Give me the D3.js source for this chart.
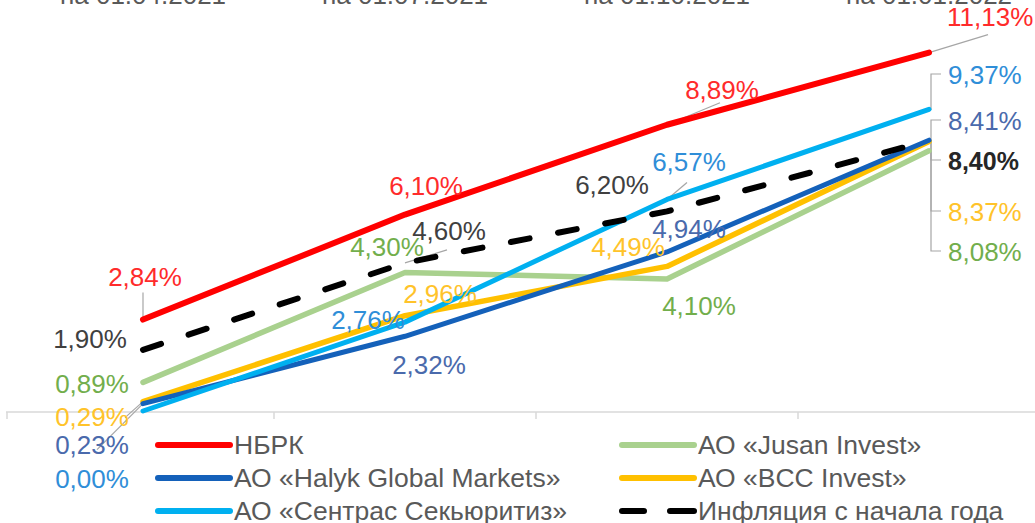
<!DOCTYPE html>
<html><head><meta charset="utf-8">
<script src="https://cdn.jsdelivr.net/npm/d3@7/dist/d3.min.js"></script>
<style>
html,body{margin:0;padding:0;background:#fff;}
svg{display:block;font-family:"Liberation Sans",Arial,sans-serif;}
</style></head>
<body><svg id="c" width="1035" height="523"></svg>
<script>
// ---- data ----
const categories = ["на 01.04.2021", "на 01.07.2021", "на 01.10.2021", "на 01.01.2022"];
const nbrk      = [2.84, 6.10, 8.89, 11.13];
const halyk     = [0.23, 2.32, 4.94, 8.41];
const sentras   = [0.00, 2.76, 6.57, 9.37];
const jusan     = [0.89, 4.30, 4.10, 8.08];
const bcc       = [0.29, 2.96, 4.49, 8.37];
const inflation = [1.90, 4.60, 6.20, 8.40];
const seriesNames = ["НБРК", "АО «Halyk Global Markets»", "АО «Сентрас Секьюритиз»",
                     "АО «Jusan Invest»", "АО «BCC Invest»", "Инфляция с начала года"];

// ---- styling / layout ----
const series = [
  {name: seriesNames[3], values: jusan,     color: "#A9D18E", label: "#72AE4C", w: 5.5},
  {name: seriesNames[4], values: bcc,       color: "#FFC000", label: "#FFC32A", w: 5.5},
  {name: seriesNames[1], values: halyk,     color: "#1461BA", label: "#4A6AAC", w: 5},
  {name: seriesNames[2], values: sentras,   color: "#00B0F0", label: "#2F8ED8", w: 5},
  {name: seriesNames[5], values: inflation, color: "#000000", label: "#404040", w: 6, dash: "19,29"},
  {name: seriesNames[0], values: nbrk,      color: "#FF0000", label: "#FF2B2B", w: 6}
];
// label offsets relative to the data point: [dx, dy, anchor]
const labelOffsets = {
  "НБРК": [[2,-34,"middle"],[21,-20,"middle"],[55,-26,"middle"],[null,-27,"start"]],
  "АО «Halyk Global Markets»": [[-51,50,"middle"],[24,38,"middle"],[22,-14,"middle"],[null,0,"start"]],
  "АО «Сентрас Секьюритиз»": [[-51,77,"middle"],[-37,7,"middle"],[22,-28,"middle"],[null,0,"start"]],
  "АО «Jusan Invest»": [[-51,11,"middle"],[-18,-17,"middle"],[32,36,"middle"],[null,0,"start"]],
  "АО «BCC Invest»": [[-51,24,"middle"],[35,-13,"middle"],[-39,-10,"middle"],[null,0,"start"]],
  "Инфляция с начала года": [[-53,-2,"middle"],[44,-23,"middle"],[-55,-17,"middle"],[null,0,"start"]]
};
// right-hand label baselines (bracketed labels)
const rightBaselines = {"АО «Сентрас Секьюритиз»":84, "АО «Halyk Global Markets»":130,
  "Инфляция с начала года":170, "АО «BCC Invest»":221, "АО «Jusan Invest»":261, "НБРК":null};
// short leader lines: [series, pointIndex, dx, dy]
const leaders = [
  ["НБРК",0,0,-27],["НБРК",1,18,-8],["НБРК",2,53,-22],["НБРК",3,59,-18],
  ["АО «Сентрас Секьюритиз»",2,20,-17],["Инфляция с начала года",1,42,-13],
  ["АО «BCC Invest»",0,-18,16],["АО «Halyk Global Markets»",0,-46,46]
];

const svg = d3.select("#c");
const x = d3.scaleBand().domain(categories).range([12, 1060]).paddingInner(0).paddingOuter(0);
const cx = c => x(c) + x.bandwidth()/2;
const y = d3.scaleLinear().domain([0, 12]).range([411, 411 - 12*32.2]);
const fmt = v => d3.format(".2f")(v).replace(".", ",") + "%";

// baseline axis
const axisG = svg.append("g").attr("transform", `translate(0,${y(0)+1})`)
  .call(d3.axisBottom(x).tickSize(0).tickFormat(""));
axisG.select(".domain").attr("stroke", "#D9D9D9").attr("stroke-width", 1.5).attr("d", "M6,0H1035");
axisG.selectAll(".tick").remove();
const bounds = categories.map(c => x(c));
axisG.selectAll("line.tk").data(bounds).join("line").attr("class","tk")
  .attr("x1", (d,i)=> i===0 ? 7 : d).attr("x2",(d,i)=> i===0 ? 7 : d)
  .attr("y1",0).attr("y2",7).attr("stroke","#D9D9D9").attr("stroke-width",1.5);

// top category labels
svg.append("g").selectAll("text").data(categories).join("text")
  .attr("x", d => cx(d)).attr("y", 4).attr("text-anchor","middle")
  .attr("font-size", 26).attr("fill","#595959").text(d => d);

// leaders
const lg = svg.append("g").attr("stroke","#A6A6A6").attr("stroke-width",1.2).attr("fill","none");
const byName = Object.fromEntries(series.map(s => [s.name, s]));
leaders.forEach(([n,i,dx,dy]) => {
  const s = byName[n]; const px = cx(categories[i]), py = y(s.values[i]);
  lg.append("line").attr("x1",px).attr("y1",py).attr("x2",px+dx).attr("y2",py+dy);
});
series.forEach(s => {
  const b = rightBaselines[s.name]; if (b == null) return;
  const px = cx(categories[3]), py = y(s.values[3]);
  lg.append("path").attr("d", `M${px},${py}H${px+2}V${b-10}H${px+12}`);
});

// lines
const line = d3.line().x((d,i) => cx(categories[i])).y(d => y(d));
series.forEach(s => {
  svg.append("path").datum(s.values).attr("d", line).attr("fill","none")
    .attr("stroke", s.color).attr("stroke-width", s.w)
    .attr("stroke-linecap", "round").attr("stroke-linejoin","round")
    .attr("stroke-dasharray", s.dash || null);
});

// data labels
series.forEach(s => {
  const offs = labelOffsets[s.name];
  s.values.forEach((v,i) => {
    const [dx,dy,anchor] = offs[i];
    const px = cx(categories[i]), py = y(v);
    let tx, ty;
    if (i === 3 && s.name !== "НБРК") { tx = px + 19; ty = rightBaselines[s.name]; }
    else if (i === 3) { tx = px + 18; ty = py + dy; }
    else { tx = px + dx; ty = py + dy; }
    const bold = s.name === "Инфляция с начала года" && i === 3;
    svg.append("text").attr("x", tx).attr("y", ty).attr("text-anchor", anchor)
      .attr("font-size", bold ? 25 : 26).attr("fill", bold ? "#262626" : s.label)
      .attr("font-weight", bold ? "bold" : null)
      .text(fmt(v));
  });
});

// legend
const legendOrder = [
  [seriesNames[0], 0, 0], [seriesNames[3], 1, 0],
  [seriesNames[1], 0, 1], [seriesNames[4], 1, 1],
  [seriesNames[2], 0, 2], [seriesNames[5], 1, 2]
];
const legG = svg.append("g");
legendOrder.forEach(([n, col, row]) => {
  const s = byName[n];
  const lx = col === 0 ? 158 : 622, ly = 445 + row*33;
  if (s.dash) {
    legG.append("line").attr("x1",lx).attr("x2",lx+22).attr("y1",ly).attr("y2",ly)
      .attr("stroke",s.color).attr("stroke-width",6).attr("stroke-linecap","round");
    legG.append("line").attr("x1",lx+48).attr("x2",lx+72).attr("y1",ly).attr("y2",ly)
      .attr("stroke",s.color).attr("stroke-width",6).attr("stroke-linecap","round");
  } else {
    legG.append("line").attr("x1",lx).attr("x2",lx+72).attr("y1",ly).attr("y2",ly)
      .attr("stroke",s.color).attr("stroke-width",6).attr("stroke-linecap","round");
  }
  legG.append("text").attr("x", lx+76).attr("y", ly+9).attr("font-size",26.5)
    .attr("fill","#595959").text(n);
});
</script></body></html>
